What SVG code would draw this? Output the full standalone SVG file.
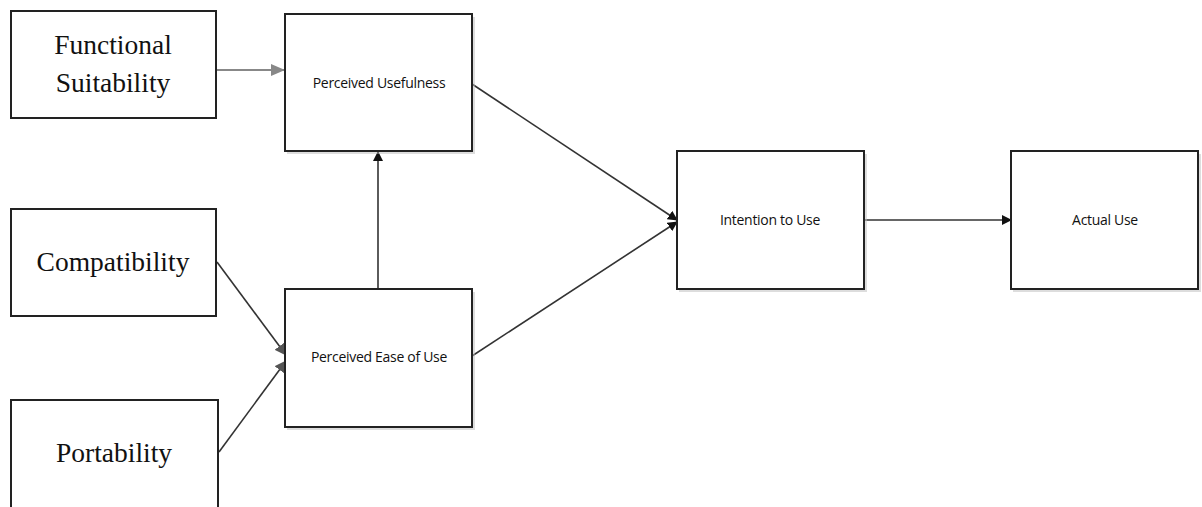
<svg xmlns="http://www.w3.org/2000/svg" width="1202" height="507" viewBox="0 0 1202 507">
<style>
.box{fill:#fff;stroke:#222;stroke-width:2}
.sh{fill:#bbb;opacity:0.5}
.serif{font-family:"Liberation Serif","Times New Roman",serif;font-size:27.5px;fill:#111;text-anchor:middle}
.sans{font-family:"Open Sans","Liberation Sans",sans-serif;font-size:14px;fill:#111;text-anchor:middle;letter-spacing:-0.3px}
.c{stroke:#333;stroke-width:1.6;fill:none}
.g{stroke:#888;stroke-width:2.2;fill:none}
</style>
<defs>
<marker id="ab" markerWidth="10" markerHeight="10" refX="9" refY="5" orient="auto" markerUnits="userSpaceOnUse"><path d="M0,0 L10,5 L0,10 z" fill="#111"/></marker>
<marker id="ag" markerWidth="14" markerHeight="12" refX="13" refY="6" orient="auto" markerUnits="userSpaceOnUse"><path d="M0,0 L14,6 L0,12 z" fill="#888"/></marker>
<marker id="ad" markerWidth="12" markerHeight="12" refX="11" refY="6" orient="auto" markerUnits="userSpaceOnUse"><path d="M0,0 L12,6 L0,12 z" fill="#555"/></marker>
</defs>
<g id="connectors">
<line class="g" x1="217" y1="70" x2="284" y2="70" marker-end="url(#ag)"/>
<line class="c" x1="378" y1="289" x2="378" y2="152" marker-end="url(#ab)"/>
<line class="c" x1="472" y1="84" x2="677" y2="220" marker-end="url(#ab)"/>
<line class="c" x1="472" y1="356" x2="677" y2="222" marker-end="url(#ab)"/>
<line class="c" x1="864" y1="220" x2="1011" y2="220" marker-end="url(#ab)"/>
<line class="c" x1="217" y1="262" x2="286" y2="355" marker-end="url(#ad)"/>
<line class="c" x1="219" y1="452" x2="286" y2="361" marker-end="url(#ad)"/>
</g>
<g id="functional-suitability">
<rect class="box" x="11" y="11" width="205" height="107"/>
<text class="serif" x="113" y="54">Functional</text>
<text class="serif" x="113" y="92">Suitability</text>
</g>
<g id="compatibility">
<rect class="box" x="11" y="209" width="205" height="107"/>
<text class="serif" x="113" y="271">Compatibility</text>
</g>
<g id="portability">
<rect class="box" x="11" y="400" width="207" height="110"/>
<text class="serif" x="114" y="462">Portability</text>
</g>
<g id="perceived-usefulness">
<rect class="sh" x="287" y="17" width="188" height="137"/>
<rect class="box" x="285" y="14" width="187" height="137"/>
<text class="sans" x="379" y="88">Perceived Usefulness</text>
</g>
<g id="perceived-ease-of-use">
<rect class="sh" x="287" y="292" width="188" height="138"/>
<rect class="box" x="285" y="289" width="187" height="138"/>
<text class="sans" x="379" y="362">Perceived Ease of Use</text>
</g>
<g id="intention-to-use">
<rect class="sh" x="679" y="154" width="188" height="138"/>
<rect class="box" x="677" y="151" width="187" height="138"/>
<text class="sans" x="770" y="225">Intention to Use</text>
</g>
<g id="actual-use">
<rect class="sh" x="1013" y="154" width="188" height="138"/>
<rect class="box" x="1011" y="151" width="187" height="138"/>
<text class="sans" x="1105" y="225">Actual Use</text>
</g>
</svg>
